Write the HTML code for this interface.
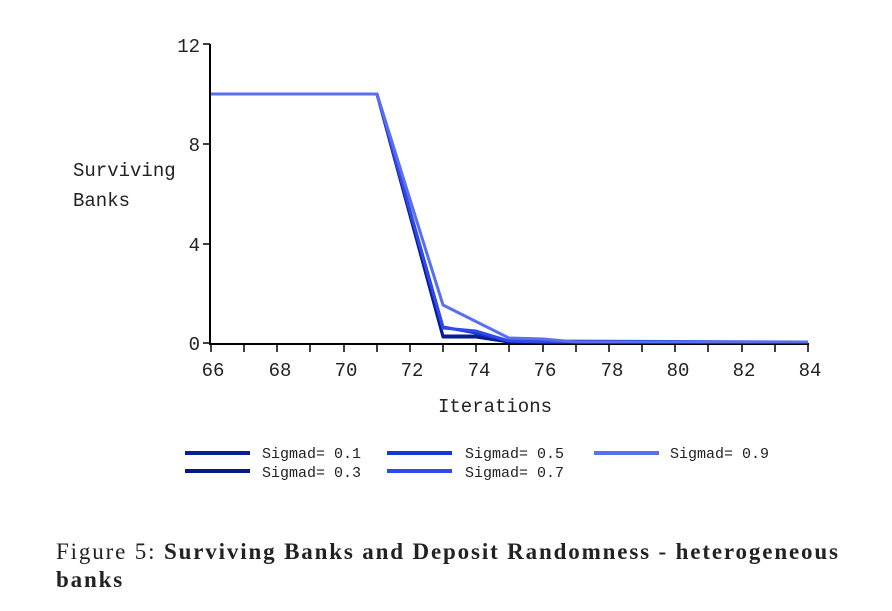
<!DOCTYPE html>
<html><head><style>
body{margin:0;background:#fff;width:892px;height:611px;overflow:hidden;position:relative}
.cap{position:absolute;left:56px;top:538px;font-family:"Liberation Serif",serif;font-size:23px;letter-spacing:1.85px;line-height:28px;color:#222;width:805px}
</style></head><body>
<svg width="892" height="611" style="position:absolute;left:0;top:0" font-family="Liberation Mono, monospace">
<g stroke="#000" stroke-width="2">
<line x1="210" y1="44" x2="210" y2="345"/>
<line x1="209" y1="344" x2="809" y2="344"/>
</g>
<g stroke="#000" stroke-width="1.5">
<line x1="203" y1="44" x2="210" y2="44"/><line x1="203" y1="144" x2="210" y2="144"/>
<line x1="203" y1="244" x2="210" y2="244"/><line x1="203" y1="343" x2="210" y2="343"/>
<line x1="211" y1="344" x2="211" y2="352"/><line x1="244" y1="344" x2="244" y2="352"/><line x1="277" y1="344" x2="277" y2="352"/><line x1="310" y1="344" x2="310" y2="352"/><line x1="344" y1="344" x2="344" y2="352"/><line x1="377" y1="344" x2="377" y2="352"/><line x1="410" y1="344" x2="410" y2="352"/><line x1="443" y1="344" x2="443" y2="352"/><line x1="476" y1="344" x2="476" y2="352"/><line x1="509" y1="344" x2="509" y2="352"/><line x1="543" y1="344" x2="543" y2="352"/><line x1="576" y1="344" x2="576" y2="352"/><line x1="609" y1="344" x2="609" y2="352"/><line x1="642" y1="344" x2="642" y2="352"/><line x1="675" y1="344" x2="675" y2="352"/><line x1="708" y1="344" x2="708" y2="352"/><line x1="742" y1="344" x2="742" y2="352"/><line x1="775" y1="344" x2="775" y2="352"/><line x1="808" y1="344" x2="808" y2="352"/>
</g>
<g font-size="19" fill="#222" text-anchor="end">
<text x="200" y="52">12</text><text x="200" y="151">8</text><text x="200" y="251">4</text><text x="200" y="350">0</text>
</g>
<g font-size="19" fill="#222" text-anchor="middle">
<text x="213" y="376">66</text><text x="280" y="376">68</text><text x="346" y="376">70</text><text x="412" y="376">72</text><text x="479" y="376">74</text><text x="545" y="376">76</text><text x="612" y="376">78</text><text x="678" y="376">80</text><text x="744" y="376">82</text><text x="810" y="376">84</text>
<text x="495" y="412">Iterations</text>
</g>
<g font-size="19" fill="#222"><text x="73" y="176">Surviving</text><text x="73" y="206">Banks</text></g>
<g fill="none" stroke-width="3" stroke-linejoin="round">
<polyline stroke="#061a80" points="211,94 377,94 443,337 476,337 509,342 808,342"/>
<polyline stroke="#0a1e9a" points="211,94 377,94 443,336 476,336 509,342 808,342"/>
<polyline stroke="#1a35d6" points="211,94 377,94 443,327 476,333 509,341 808,342"/>
<polyline stroke="#2f4ae8" points="211,94 377,94 443,328 476,331 509,341 543,342 808,342"/>
<polyline stroke="#5a6ef0" points="211,94 377,94 443,305 509,338 543,339 576,342 808,342"/>
</g>
<g stroke-width="4">
<line x1="185" y1="453" x2="250" y2="453" stroke="#0a1e9a"/>
<line x1="185" y1="471" x2="250" y2="471" stroke="#061a80"/>
<line x1="387" y1="453" x2="452" y2="453" stroke="#1a35d6"/>
<line x1="387" y1="471" x2="452" y2="471" stroke="#2f4ae8"/>
<line x1="594" y1="453" x2="659" y2="453" stroke="#5a6ef0"/>
</g>
<g font-size="15" fill="#222">
<text x="262" y="458">Sigmad= 0.1</text><text x="262" y="477">Sigmad= 0.3</text>
<text x="465" y="458">Sigmad= 0.5</text><text x="465" y="477">Sigmad= 0.7</text>
<text x="670" y="458">Sigmad= 0.9</text>
</g>
</svg>
<div class="cap">Figure 5: <b>Surviving Banks and Deposit Randomness - heterogeneous banks</b></div>
</body></html>
